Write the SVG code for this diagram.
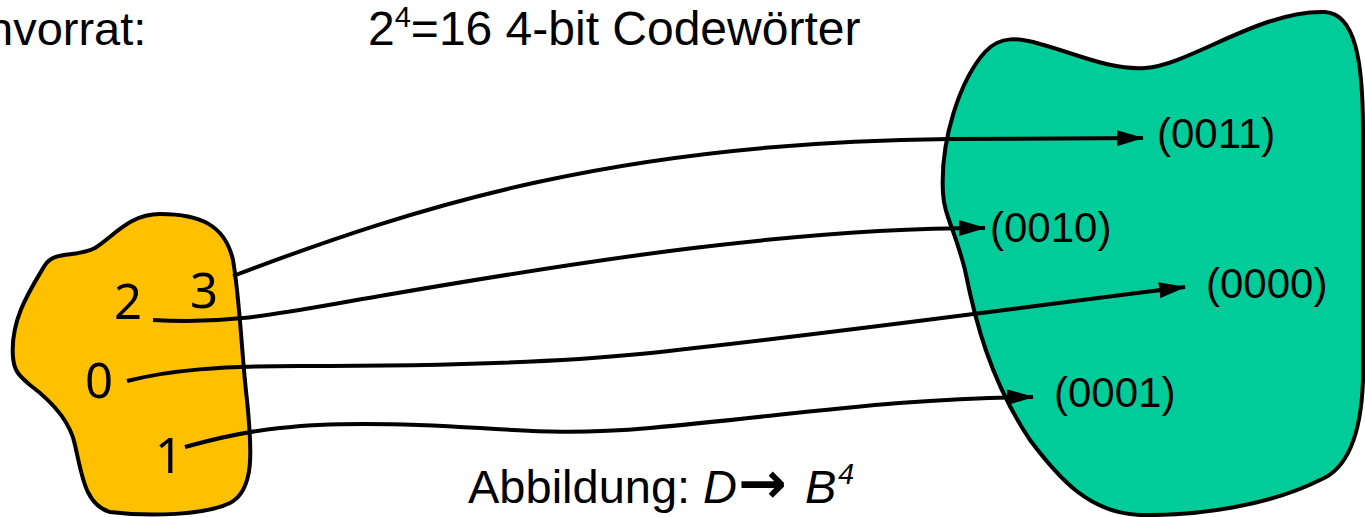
<svg xmlns="http://www.w3.org/2000/svg" width="1365" height="517" viewBox="0 0 1365 517">
<style>
.t{font-family:"Liberation Sans",Arial,sans-serif;fill:#000}
.big{font-size:47px}
.code{font-size:42px}
.dig{font-family:"Noto Sans","Open Sans",sans-serif;font-size:49px;fill:#000}
.blob{stroke:#000;stroke-width:4}
.con{fill:none;stroke:#000;stroke-width:4;marker-end:url(#ah)}
</style>
<defs>
<marker id="ah" viewBox="0 0 27 16" refX="26" refY="8" markerWidth="27" markerHeight="16" markerUnits="userSpaceOnUse" orient="auto">
<path d="M0,0 L27,8 L0,16 Z" fill="#000"/>
</marker>
</defs>
<rect width="1365" height="517" fill="#fff"/>
<text class="t big" x="-13" y="45">nvorrat:</text>
<text class="t" x="368" y="45" style="font-size:48px">2<tspan style="font-size:29px" dy="-18">4</tspan><tspan dy="18">=16 4-bit Codewörter</tspan></text>
<g id="domain">
<path class="blob" fill="#FFC000" d="M13,357 C10,320 30,290 45,265 C55,250 75,258 95,248 C115,235 130,214 160,214 C200,214 225,225 233,260 C240,300 242,360 247,400 C252,450 255,490 230,503 C205,515 150,517 110,512 C85,505 82,475 75,445 C70,420 50,400 30,385 C18,375 14,370 13,357 Z"/>
<text class="dig" x="114" y="319">2</text>
<text class="dig" x="190" y="308">3</text>
<text class="dig" x="85" y="398">0</text>
<text class="dig" x="155" y="473">1</text>
</g>
<g id="codomain">
<path class="blob" fill="#00CC99" d="M943,193 C940,140 960,80 985,52 C1000,35 1020,38 1040,44 C1080,55 1110,70 1145,68 C1190,65 1260,10 1325,12 C1355,14 1363,60 1363,130 L1363,380 C1361,440 1345,470 1320,480 C1270,505 1200,516 1140,515 C1090,513 1060,480 1030,440 C990,380 975,320 965,270 C955,230 944,215 943,193 Z"/>
<text class="t code" x="1157" y="148">(0011)</text>
<text class="t code" x="990" y="242">(0010)</text>
<text class="t code" x="1206" y="298">(0000)</text>
<text class="t code" x="1054" y="407">(0001)</text>
</g>
<g id="connectors">
<path class="con" d="M233,276 C420,205 620,142 950,139 L1143,138"/>
<path class="con" d="M153,320 C230,325 280,313 380,296 C600,258 800,228 985,228"/>
<path class="con" d="M127,381 C170,370 220,366 300,366 C450,366 560,362 640,354 C820,335 1000,310 1185,287"/>
<path class="con" d="M185,447 C210,440 240,432 280,428 C330,422 400,423 480,428 C540,432 580,434 650,428 C800,414 900,398 1033,397"/>
</g>
<text class="t big" x="468" y="503">Abbildung: <tspan x="703" font-style="italic">D</tspan><tspan x="738" font-family="'DejaVu Sans',sans-serif" font-size="58" font-weight="bold">→</tspan><tspan x="805" font-style="italic">B</tspan><tspan x="838" style="font-size:29px" dy="-19" font-style="italic">4</tspan></text>
</svg>
